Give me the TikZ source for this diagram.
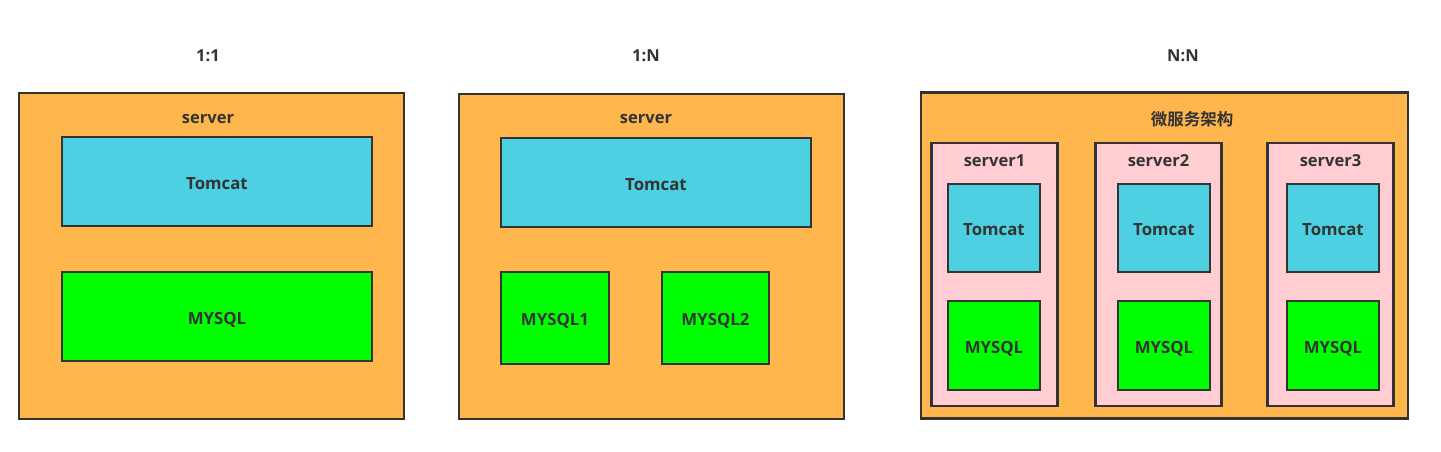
\documentclass[tikz,border=0pt]{standalone}
\usepackage{fontspec}
\setmainfont{Open Sans}
\newfontfamily\cjk{Noto Sans CJK SC}[BoldFont={* Bold}]
\definecolor{bd}{HTML}{333333}
\definecolor{orng}{HTML}{FFB64D}
\definecolor{tom}{HTML}{4DD0E1}
\definecolor{sql}{HTML}{00FF00}
\definecolor{pnk}{HTML}{FFCDD2}
\tikzset{
  box/.style={draw=bd, line width=2.8pt, rectangle, inner sep=0pt, text=bd, font=\fontsize{16.8}{18}\selectfont\bfseries, text height=15pt, text depth=0pt},
  lbl/.style={inner sep=0pt, text=bd, font=\fontsize{16.5}{18}\selectfont\bfseries},
}
\begin{document}
\begin{tikzpicture}[x=1pt,y=-1pt]
\useasboundingbox[fill=white] (0,0) rectangle (1441,452);
% titles
\node[lbl] (t1) at (208,56) {1:1};
\node[lbl] (t2) at (646,56) {1:N};
\node[lbl] (t3) at (1183,56) {N:N};
% panel 1
\node[box, fill=orng, minimum width=385pt, minimum height=326pt] (p1) at (211.5,256) {};
\node[lbl] (s1) at (208,119) {server};
\node[box, fill=tom, minimum width=310pt, minimum height=89pt] (tc1) at (217,181.5) {Tomcat};
\node[box, fill=sql, minimum width=310pt, minimum height=89pt] (my1) at (217,316.5) {MYSQL};
% panel 2
\node[box, fill=orng, minimum width=385pt, minimum height=325pt] (p2) at (651.5,256.5) {};
\node[lbl] (s2) at (646,119) {server};
\node[box, fill=tom, minimum width=310pt, minimum height=89pt] (tc2) at (656,182.5) {Tomcat};
\node[box, fill=sql, minimum width=108pt, minimum height=92pt] (my21) at (555,318) {MYSQL1};
\node[box, fill=sql, minimum width=107pt, minimum height=92pt] (my22) at (715.5,318) {MYSQL2};
% panel 3
\node[box, fill=orng, minimum width=487pt, minimum height=326pt] (p3) at (1164.5,255.5) {};
\node[lbl, font=\fontsize{16.5}{18}\selectfont\cjk\bfseries] (ms) at (1192,119) {微服务架构};
\foreach \i/\cx/\tx in {1/994.5/994, 2/1158.5/1164, 3/1330.5/1333}{
  \node[box, fill=pnk, minimum width=126pt, minimum height=263pt] (sv\i) at (\cx,274.5) {};
  \node[lbl] (sl\i) at (\cx,161) {server\i};
  \node[box, fill=tom, minimum width=92pt, minimum height=88pt] (tc3\i) at (\tx,228) {Tomcat};
  \node[box, fill=sql, minimum width=92pt, minimum height=89pt] (my3\i) at (\tx,345.5) {MYSQL};
}
\end{tikzpicture}
\end{document}
